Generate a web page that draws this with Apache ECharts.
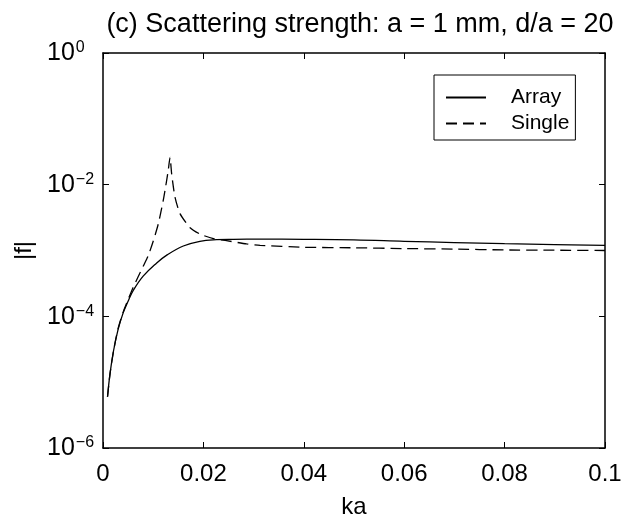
<!DOCTYPE html>
<html>
<head>
<meta charset="utf-8">
<script src="https://cdn.jsdelivr.net/npm/echarts@6/dist/echarts.min.js"></script>
<style>
html,body{margin:0;padding:0;background:#fff;}
#chart{width:626px;height:517px;}
</style>
</head>
<body>
<div id="chart"></div>
<script>
// ---- data ----
var titleText = '(c) Scattering strength: a = 1 mm, d/a = 20';
var xTickLabels = ['0', '0.02', '0.04', '0.06', '0.08', '0.1'];
var seriesNames = ['Array', 'Single'];

var arrayKa = [0.0009, 0.0014, 0.0021, 0.003, 0.004, 0.005, 0.006, 0.008, 0.0107, 0.0127, 0.016, 0.0193, 0.0226, 0.026, 0.0313, 0.040, 0.050, 0.060, 0.070, 0.080, 0.090, 0.100];
var arrayF  = [6.0e-6, 1.35e-5, 3.0e-5, 6.3e-5, 1.12e-4, 1.7e-4, 2.45e-4, 4.07e-4, 6.46e-4, 8.5e-4, 1.17e-3, 1.38e-3, 1.46e-3, 1.48e-3, 1.49e-3, 1.48e-3, 1.45e-3, 1.38e-3, 1.32e-3, 1.27e-3, 1.23e-3, 1.20e-3];

var singleKa = [0.0009, 0.0014, 0.0021, 0.003, 0.004, 0.005, 0.006, 0.007, 0.008, 0.009, 0.010, 0.011, 0.012, 0.0125, 0.013, 0.01335, 0.01368, 0.01434, 0.01534, 0.0173, 0.0193, 0.022, 0.0246, 0.0286, 0.0313, 0.040, 0.050, 0.060, 0.070, 0.080, 0.090, 0.100];
var singleF  = [6.0e-6, 1.35e-5, 3.0e-5, 6.5e-5, 1.15e-4, 1.8e-4, 2.75e-4, 3.98e-4, 5.75e-4, 8.3e-4, 1.38e-3, 2.51e-3, 5.75e-3, 9.55e-3, 1.66e-2, 2.59e-2, 1.45e-2, 6.46e-3, 3.63e-3, 2.24e-3, 1.78e-3, 1.51e-3, 1.41e-3, 1.26e-3, 1.20e-3, 1.12e-3, 1.10e-3, 1.07e-3, 1.05e-3, 1.02e-3, 1.01e-3, 1.00e-3];

var yMin = 1e-6, yMax = 1;
// --------------------------------------

function pairs(xs, ys){ return xs.map(function(x,i){ return [x, ys[i]]; }); }

var FONT = 'Liberation Sans';
var chart = echarts.init(document.getElementById('chart'), null, {renderer:'canvas'});

var axisLineStyle = {color:'#000', width:1.5};
var option = {
  animation:false,
  backgroundColor:'#fff',
  textStyle:{fontFamily:FONT, color:'#000'},
  title:{
    text:titleText,
    left:355, top:6, textAlign:'center',
    textStyle:{fontFamily:FONT, fontSize:27, fontWeight:'normal', color:'#000'}
  },
  grid:{left:103, right:21, top:53, bottom:69, containLabel:false, outerBoundsMode:'none'},
  legend:{
    orient:'vertical',
    left:434, top:75,
    data:seriesNames,
    backgroundColor:'#fff',
    borderColor:'#000', borderWidth:1,
    padding:[12, 6, 6, 11],
    itemWidth:40, itemHeight:14, itemGap:5,
    itemStyle:{opacity:0},
    textStyle:{fontFamily:FONT, fontSize:21, color:'#000', lineHeight:20, padding:[0,0,0,20]}
  },
  xAxis:[{
    type:'value', min:0, max:0.1, interval:0.02, position:'bottom',
    name:'ka', nameLocation:'middle', nameGap:47,
    nameTextStyle:{fontFamily:FONT, fontSize:24, color:'#000'},
    axisLine:{show:true, onZero:false, lineStyle:axisLineStyle},
    axisTick:{show:true, inside:true, length:6, lineStyle:{color:'#000', width:1}},
    axisLabel:{fontFamily:FONT, fontSize:24, color:'#000', margin:14,
      formatter:function(v){ var i = Math.round(v/0.02); return xTickLabels[i] !== undefined ? xTickLabels[i] : ''; }},
    splitLine:{show:false}
  },{
    type:'value', min:0, max:0.1, interval:0.02, position:'top',
    axisLine:{show:true, onZero:false, lineStyle:axisLineStyle},
    axisTick:{show:true, inside:true, length:6, lineStyle:{color:'#000', width:1}},
    axisLabel:{show:false}, splitLine:{show:false}
  }],
  yAxis:[{
    type:'log', logBase:100, min:yMin, max:yMax, position:'left',
    name:'|f|', nameLocation:'middle', nameGap:67, nameRotate:90,
    nameTextStyle:{fontFamily:FONT, fontSize:24, color:'#000'},
    axisLine:{show:true, onZero:false, lineStyle:axisLineStyle},
    axisTick:{show:true, inside:true, length:6, lineStyle:{color:'#000', width:1}},
    minorTick:{show:false},
    axisLabel:{margin:56, align:'left', color:'#000',
      formatter:function(v){
        var e = Math.round(Math.log(v)/Math.LN10);
        var s = e < 0 ? '\u2212' + (-e) : '' + e;
        return '{b|10}{s|' + s + '}';
      },
      rich:{
        b:{fontFamily:FONT, fontSize:25, color:'#000', verticalAlign:'bottom', lineHeight:26},
        s:{fontFamily:FONT, fontSize:16, color:'#000', verticalAlign:'top', lineHeight:26, padding:[0,0,16,1]}
      }
    },
    splitLine:{show:false}
  },{
    type:'log', logBase:100, min:yMin, max:yMax, position:'right',
    axisLine:{show:true, onZero:false, lineStyle:axisLineStyle},
    axisTick:{show:true, inside:true, length:6, lineStyle:{color:'#000', width:1}},
    axisLabel:{show:false}, splitLine:{show:false}
  }],
  series:[{
    name:seriesNames[0], type:'line', xAxisIndex:0, yAxisIndex:0,
    data:pairs(arrayKa, arrayF), symbol:'none', smooth:0.4,
    lineStyle:{color:'#000', width:1.3, type:'solid'},
    itemStyle:{color:'#000'}
  },{
    name:seriesNames[1], type:'line', xAxisIndex:0, yAxisIndex:0,
    data:pairs(singleKa, singleF), symbol:'none', smooth:0.2,
    lineStyle:{color:'#000', width:1.3, type:[11,6]},
    itemStyle:{color:'#000'}
  }]
};
chart.setOption(option);
</script>
</body>
</html>
